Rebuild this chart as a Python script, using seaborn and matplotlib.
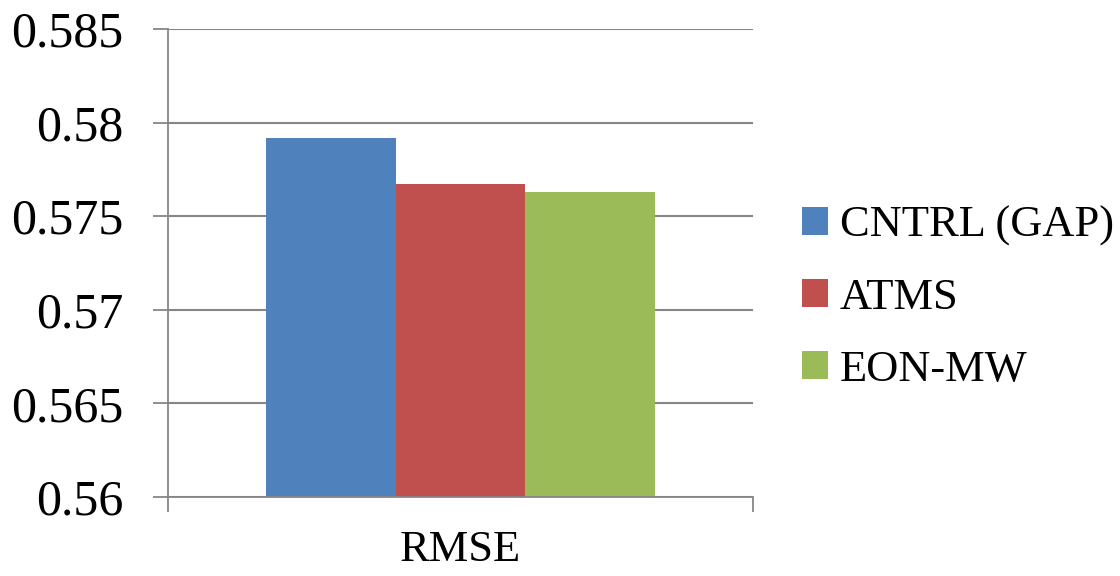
import matplotlib
matplotlib.use("Agg")
import matplotlib.pyplot as plt
import seaborn as sns
import pandas as pd
from matplotlib.patches import Patch

# values
metric = ["RMSE", "RMSE", "RMSE"]
series = ["CNTRL (GAP)", "ATMS", "EON-MW"]
rmse = [0.57918, 0.57674, 0.57631]
colors = ["#4F81BD", "#C0504D", "#9BBB59"]
yticks = [0.56, 0.565, 0.57, 0.575, 0.58, 0.585]
ytick_labels = ["0.56", "0.565", "0.57", "0.575", "0.58", "0.585"]

df = pd.DataFrame({"metric": metric, "series": series, "rmse": rmse})

sns.set_style("white")
plt.rcParams["font.family"] = ["Liberation Serif", "DejaVu Serif"]
plt.rcParams["text.color"] = "black"
plt.rcParams["xtick.color"] = "black"
plt.rcParams["ytick.color"] = "black"

fig = plt.figure(figsize=(11.2, 5.76), dpi=100)
ax = fig.add_axes([0.15, 0.137, 0.5223, 0.8127])

sns.barplot(data=df, x="metric", y="rmse", hue="series", palette=colors,
            width=0.664, saturation=1, linewidth=0, ax=ax, legend=False)

ax.set_ylim(0.56, 0.585)
ax.set_xlim(-0.5, 0.5)
ax.set_yticks(yticks)
ax.set_yticklabels(ytick_labels, fontsize=36)
ax.set_xticks([0])
ax.set_xticklabels(["RMSE"], fontsize=32)
ax.set_xticks([-0.5, 0.5], minor=True)
ax.tick_params(axis="x", which="major", length=0, pad=24)
ax.tick_params(axis="x", which="minor", length=11, width=1.3, color="#868686", direction="out", bottom=True)
ax.tick_params(axis="y", length=11, width=1.3, color="#868686", labelcolor="black",
               direction="out", left=True, pad=21)
ax.set_xlabel("")
ax.set_ylabel("")

ax.yaxis.grid(True, color="#868686", linewidth=1.5)
ax.set_axisbelow(True)
for s in ["top", "right"]:
    ax.spines[s].set_visible(False)
for s in ["left", "bottom"]:
    ax.spines[s].set_color("#868686")
    ax.spines[s].set_linewidth(1.3)

handles = [Patch(facecolor=c, edgecolor="none") for c in colors]
fig.legend(handles, series, loc="center left", bbox_to_anchor=(0.700, 0.483),
           frameon=False, fontsize=32, handlelength=0.585, handleheight=0.585,
           handletextpad=0.27, labelspacing=0.72, borderaxespad=0)

fig.savefig("out.png", dpi=100)
